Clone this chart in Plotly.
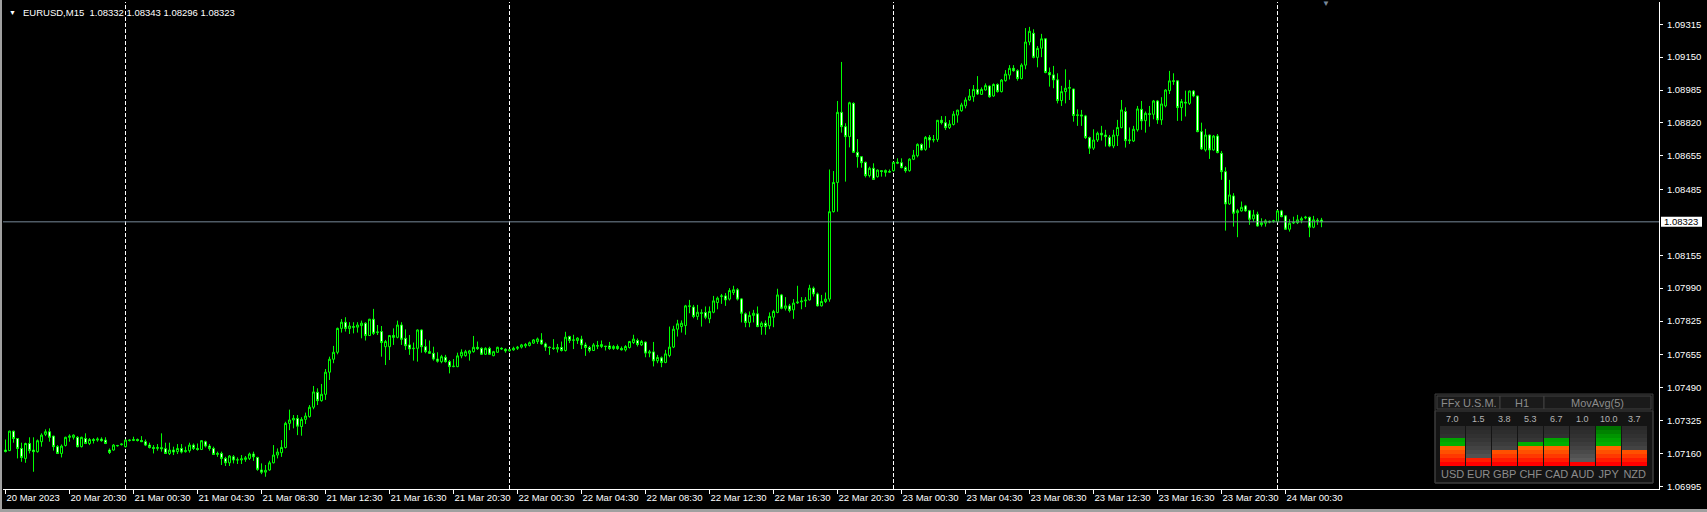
import math
import pandas as pd
import plotly.graph_objects as go

# ---------------- data ----------------
header_symbol = "EURUSD,M15"
start_time = "2023-03-20 16:30"

opens = [
    1.07177, 1.07174, 1.07272, 1.07235, 1.07185, 1.07135, 1.07210, 1.07177, 1.07169, 1.07219,
    1.07256, 1.07269, 1.07247, 1.07194, 1.07160, 1.07200, 1.07241, 1.07241, 1.07241, 1.07194,
    1.07235, 1.07210, 1.07230, 1.07227, 1.07232, 1.07227, 1.07177, 1.07177, 1.07200, 1.07204,
    1.07194, 1.07225, 1.07225, 1.07230, 1.07225, 1.07219, 1.07202, 1.07190, 1.07185, 1.07189,
    1.07184, 1.07160, 1.07177, 1.07169, 1.07185, 1.07169, 1.07174, 1.07202, 1.07185, 1.07180,
    1.07219, 1.07197, 1.07185, 1.07155, 1.07160, 1.07135, 1.07113, 1.07143, 1.07127, 1.07127,
    1.07130, 1.07135, 1.07157, 1.07140, 1.07077, 1.07066, 1.07077, 1.07113, 1.07152, 1.07164,
    1.07190, 1.07311, 1.07328, 1.07336, 1.07295, 1.07331, 1.07345, 1.07392, 1.07467, 1.07425,
    1.07457, 1.07568, 1.07633, 1.07668, 1.07788, 1.07819, 1.07787, 1.07797, 1.07794, 1.07802,
    1.07814, 1.07752, 1.07834, 1.07767, 1.07772, 1.07696, 1.07696, 1.07752, 1.07743, 1.07805,
    1.07738, 1.07705, 1.07686, 1.07688, 1.07780, 1.07696, 1.07671, 1.07663, 1.07634, 1.07621,
    1.07643, 1.07621, 1.07596, 1.07596, 1.07650, 1.07651, 1.07663, 1.07671, 1.07693, 1.07688,
    1.07658, 1.07688, 1.07651, 1.07668, 1.07688, 1.07683, 1.07676, 1.07680, 1.07688, 1.07694,
    1.07700, 1.07702, 1.07714, 1.07722, 1.07730, 1.07710, 1.07694, 1.07690, 1.07684, 1.07692,
    1.07677, 1.07747, 1.07730, 1.07727, 1.07734, 1.07705, 1.07692, 1.07677, 1.07702, 1.07697,
    1.07699, 1.07700, 1.07687, 1.07697, 1.07687, 1.07680, 1.07692, 1.07717, 1.07727, 1.07705,
    1.07719, 1.07664, 1.07670, 1.07625, 1.07640, 1.07617, 1.07652, 1.07694, 1.07784, 1.07797,
    1.07802, 1.07901, 1.07895, 1.07848, 1.07866, 1.07868, 1.07836, 1.07869, 1.07918, 1.07948,
    1.07951, 1.07935, 1.07968, 1.07982, 1.07936, 1.07861, 1.07818, 1.07853, 1.07861, 1.07797,
    1.07814, 1.07801, 1.07844, 1.07868, 1.07956, 1.07889, 1.07901, 1.07881, 1.07916, 1.07921,
    1.07926, 1.07931, 1.07990, 1.07961, 1.07901, 1.07923, 1.07935, 1.08374, 1.08521, 1.08873,
    1.08801, 1.08751, 1.08918, 1.08672, 1.08650, 1.08622, 1.08555, 1.08592, 1.08550, 1.08580,
    1.08571, 1.08576, 1.08580, 1.08622, 1.08620, 1.08595, 1.08580, 1.08637, 1.08655, 1.08712,
    1.08687, 1.08747, 1.08734, 1.08737, 1.08833, 1.08821, 1.08797, 1.08812, 1.08859, 1.08881,
    1.08906, 1.08935, 1.08951, 1.08988, 1.08963, 1.08985, 1.09005, 1.08955, 1.09013, 1.08977,
    1.09032, 1.09060, 1.09094, 1.09082, 1.09043, 1.09110, 1.09226, 1.09270, 1.09149, 1.09195,
    1.09242, 1.09073, 1.09061, 1.09036, 1.08932, 1.08977, 1.08994, 1.08990, 1.08857, 1.08860,
    1.08855, 1.08746, 1.08693, 1.08734, 1.08768, 1.08759, 1.08748, 1.08704, 1.08756, 1.08796,
    1.08877, 1.08731, 1.08729, 1.08785, 1.08888, 1.08831, 1.08866, 1.08863, 1.08930, 1.08835,
    1.08905, 1.08982, 1.09031, 1.09031, 1.08897, 1.08924, 1.08918, 1.08980, 1.08955, 1.08776,
    1.08684, 1.08759, 1.08684, 1.08754, 1.08667, 1.08575, 1.08413, 1.08453, 1.08369, 1.08378,
    1.08403, 1.08379, 1.08338, 1.08361, 1.08309, 1.08316, 1.08326, 1.08324, 1.08324, 1.08378,
    1.08353, 1.08286, 1.08317, 1.08319, 1.08331, 1.08343, 1.08346, 1.08296, 1.08331, 1.08332,
]
highs = [
    1.07230, 1.07274, 1.07274, 1.07237, 1.07214, 1.07214, 1.07241, 1.07241, 1.07230, 1.07261,
    1.07281, 1.07286, 1.07249, 1.07202, 1.07205, 1.07244, 1.07256, 1.07256, 1.07247, 1.07244,
    1.07261, 1.07237, 1.07237, 1.07241, 1.07241, 1.07241, 1.07185, 1.07207, 1.07203, 1.07210,
    1.07230, 1.07230, 1.07244, 1.07235, 1.07247, 1.07230, 1.07214, 1.07202, 1.07207, 1.07261,
    1.07214, 1.07214, 1.07194, 1.07207, 1.07207, 1.07194, 1.07214, 1.07210, 1.07210, 1.07227,
    1.07224, 1.07207, 1.07194, 1.07169, 1.07169, 1.07143, 1.07152, 1.07152, 1.07140, 1.07152,
    1.07147, 1.07164, 1.07169, 1.07143, 1.07110, 1.07102, 1.07123, 1.07202, 1.07185, 1.07227,
    1.07319, 1.07380, 1.07353, 1.07353, 1.07342, 1.07365, 1.07403, 1.07499, 1.07487, 1.07509,
    1.07584, 1.07646, 1.07700, 1.07792, 1.07835, 1.07844, 1.07819, 1.07819, 1.07819, 1.07827,
    1.07819, 1.07836, 1.07886, 1.07805, 1.07800, 1.07730, 1.07755, 1.07788, 1.07827, 1.07819,
    1.07783, 1.07755, 1.07717, 1.07783, 1.07783, 1.07733, 1.07727, 1.07696, 1.07668, 1.07655,
    1.07655, 1.07629, 1.07634, 1.07666, 1.07683, 1.07680, 1.07680, 1.07750, 1.07722, 1.07693,
    1.07693, 1.07696, 1.07675, 1.07696, 1.07693, 1.07688, 1.07685, 1.07696, 1.07700, 1.07710,
    1.07714, 1.07722, 1.07734, 1.07742, 1.07764, 1.07717, 1.07697, 1.07734, 1.07710, 1.07722,
    1.07771, 1.07751, 1.07756, 1.07744, 1.07751, 1.07717, 1.07700, 1.07714, 1.07725, 1.07727,
    1.07700, 1.07720, 1.07704, 1.07707, 1.07697, 1.07704, 1.07725, 1.07756, 1.07737, 1.07730,
    1.07722, 1.07680, 1.07720, 1.07655, 1.07647, 1.07680, 1.07797, 1.07801, 1.07831, 1.07828,
    1.07906, 1.07931, 1.07906, 1.07906, 1.07884, 1.07898, 1.07898, 1.07951, 1.07948, 1.07961,
    1.07965, 1.07990, 1.08002, 1.07990, 1.07940, 1.07868, 1.07873, 1.07881, 1.07898, 1.07823,
    1.07828, 1.07868, 1.07881, 1.07987, 1.07961, 1.07945, 1.07911, 1.07935, 1.08002, 1.07945,
    1.07945, 1.08007, 1.07998, 1.07968, 1.07956, 1.07968, 1.08586, 1.08578, 1.08930, 1.09126,
    1.08818, 1.08926, 1.08923, 1.08739, 1.08653, 1.08625, 1.08600, 1.08617, 1.08586, 1.08583,
    1.08586, 1.08586, 1.08625, 1.08642, 1.08642, 1.08603, 1.08642, 1.08684, 1.08717, 1.08717,
    1.08754, 1.08759, 1.08759, 1.08834, 1.08854, 1.08854, 1.08834, 1.08879, 1.08886, 1.08921,
    1.08948, 1.08990, 1.09010, 1.09055, 1.08998, 1.09018, 1.09008, 1.09018, 1.09018, 1.09040,
    1.09085, 1.09110, 1.09110, 1.09089, 1.09119, 1.09296, 1.09302, 1.09290, 1.09206, 1.09267,
    1.09245, 1.09098, 1.09106, 1.09069, 1.09006, 1.09089, 1.09036, 1.08992, 1.08888, 1.08885,
    1.08860, 1.08751, 1.08788, 1.08776, 1.08805, 1.08785, 1.08759, 1.08785, 1.08835, 1.08935,
    1.08898, 1.08797, 1.08805, 1.08905, 1.08930, 1.08877, 1.08905, 1.08935, 1.08935, 1.08949,
    1.08989, 1.09081, 1.09069, 1.09033, 1.08940, 1.08982, 1.08982, 1.08985, 1.08957, 1.08821,
    1.08790, 1.08761, 1.08759, 1.08764, 1.08679, 1.08597, 1.08534, 1.08467, 1.08388, 1.08425,
    1.08408, 1.08383, 1.08383, 1.08374, 1.08341, 1.08336, 1.08329, 1.08333, 1.08383, 1.08383,
    1.08355, 1.08336, 1.08349, 1.08358, 1.08349, 1.08353, 1.08349, 1.08353, 1.08341, 1.08343,
]
lows = [
    1.07165, 1.07172, 1.07214, 1.07135, 1.07118, 1.07113, 1.07160, 1.07068, 1.07164, 1.07194,
    1.07247, 1.07219, 1.07174, 1.07157, 1.07140, 1.07195, 1.07219, 1.07230, 1.07190, 1.07190,
    1.07207, 1.07202, 1.07210, 1.07219, 1.07219, 1.07207, 1.07157, 1.07174, 1.07194, 1.07200,
    1.07190, 1.07220, 1.07222, 1.07220, 1.07217, 1.07197, 1.07185, 1.07160, 1.07174, 1.07169,
    1.07157, 1.07152, 1.07152, 1.07157, 1.07160, 1.07164, 1.07164, 1.07177, 1.07174, 1.07177,
    1.07190, 1.07174, 1.07152, 1.07143, 1.07102, 1.07097, 1.07097, 1.07110, 1.07107, 1.07107,
    1.07118, 1.07127, 1.07123, 1.07073, 1.07056, 1.07043, 1.07073, 1.07110, 1.07135, 1.07143,
    1.07185, 1.07277, 1.07286, 1.07252, 1.07249, 1.07308, 1.07340, 1.07382, 1.07403, 1.07420,
    1.07429, 1.07529, 1.07613, 1.07658, 1.07767, 1.07772, 1.07760, 1.07763, 1.07767, 1.07738,
    1.07727, 1.07750, 1.07755, 1.07755, 1.07646, 1.07604, 1.07629, 1.07705, 1.07738, 1.07705,
    1.07680, 1.07655, 1.07626, 1.07621, 1.07666, 1.07663, 1.07660, 1.07626, 1.07616, 1.07613,
    1.07616, 1.07562, 1.07593, 1.07593, 1.07638, 1.07646, 1.07626, 1.07666, 1.07680, 1.07655,
    1.07655, 1.07655, 1.07648, 1.07666, 1.07680, 1.07666, 1.07671, 1.07676, 1.07680, 1.07687,
    1.07690, 1.07697, 1.07710, 1.07710, 1.07705, 1.07675, 1.07655, 1.07680, 1.07667, 1.07672,
    1.07672, 1.07714, 1.07684, 1.07710, 1.07684, 1.07650, 1.07667, 1.07675, 1.07684, 1.07689,
    1.07677, 1.07680, 1.07680, 1.07680, 1.07677, 1.07672, 1.07687, 1.07710, 1.07697, 1.07700,
    1.07643, 1.07643, 1.07597, 1.07613, 1.07593, 1.07613, 1.07643, 1.07689, 1.07747, 1.07767,
    1.07756, 1.07864, 1.07839, 1.07831, 1.07797, 1.07834, 1.07814, 1.07864, 1.07884, 1.07911,
    1.07901, 1.07928, 1.07956, 1.07928, 1.07818, 1.07794, 1.07794, 1.07818, 1.07794, 1.07756,
    1.07756, 1.07784, 1.07794, 1.07864, 1.07884, 1.07878, 1.07868, 1.07836, 1.07911, 1.07884,
    1.07895, 1.07928, 1.07948, 1.07898, 1.07898, 1.07915, 1.07922, 1.08370, 1.08374, 1.08771,
    1.08525, 1.08697, 1.08670, 1.08595, 1.08595, 1.08546, 1.08546, 1.08533, 1.08545, 1.08550,
    1.08550, 1.08570, 1.08575, 1.08613, 1.08592, 1.08570, 1.08575, 1.08633, 1.08647, 1.08682,
    1.08680, 1.08695, 1.08722, 1.08725, 1.08812, 1.08784, 1.08789, 1.08807, 1.08821, 1.08876,
    1.08893, 1.08931, 1.08926, 1.08960, 1.08960, 1.08982, 1.08946, 1.08951, 1.08972, 1.08973,
    1.09027, 1.09038, 1.09077, 1.09032, 1.09038, 1.09089, 1.09210, 1.09144, 1.09099, 1.09150,
    1.09069, 1.09002, 1.08994, 1.08918, 1.08905, 1.08918, 1.08935, 1.08826, 1.08805, 1.08805,
    1.08739, 1.08664, 1.08684, 1.08724, 1.08731, 1.08701, 1.08698, 1.08693, 1.08704, 1.08793,
    1.08696, 1.08714, 1.08724, 1.08776, 1.08785, 1.08771, 1.08801, 1.08838, 1.08815, 1.08810,
    1.08898, 1.08965, 1.09011, 1.08830, 1.08830, 1.08852, 1.08910, 1.08949, 1.08773, 1.08684,
    1.08676, 1.08639, 1.08681, 1.08667, 1.08534, 1.08279, 1.08408, 1.08299, 1.08246, 1.08374,
    1.08374, 1.08308, 1.08324, 1.08299, 1.08299, 1.08299, 1.08316, 1.08319, 1.08321, 1.08346,
    1.08282, 1.08274, 1.08312, 1.08312, 1.08316, 1.08336, 1.08246, 1.08291, 1.08308, 1.08296,
]
closes = [
    1.07170, 1.07272, 1.07235, 1.07185, 1.07140, 1.07210, 1.07174, 1.07169, 1.07224, 1.07252,
    1.07269, 1.07241, 1.07194, 1.07160, 1.07197, 1.07241, 1.07247, 1.07252, 1.07194, 1.07241,
    1.07210, 1.07230, 1.07225, 1.07232, 1.07224, 1.07210, 1.07165, 1.07202, 1.07199, 1.07207,
    1.07227, 1.07227, 1.07230, 1.07225, 1.07219, 1.07202, 1.07190, 1.07185, 1.07190, 1.07184,
    1.07160, 1.07177, 1.07167, 1.07185, 1.07167, 1.07174, 1.07202, 1.07185, 1.07180, 1.07224,
    1.07197, 1.07185, 1.07155, 1.07160, 1.07135, 1.07113, 1.07147, 1.07127, 1.07128, 1.07133,
    1.07138, 1.07157, 1.07143, 1.07080, 1.07066, 1.07075, 1.07113, 1.07152, 1.07167, 1.07190,
    1.07311, 1.07328, 1.07336, 1.07297, 1.07331, 1.07348, 1.07392, 1.07469, 1.07425, 1.07457,
    1.07568, 1.07633, 1.07668, 1.07788, 1.07819, 1.07788, 1.07800, 1.07794, 1.07805, 1.07814,
    1.07752, 1.07834, 1.07763, 1.07770, 1.07717, 1.07722, 1.07752, 1.07743, 1.07805, 1.07733,
    1.07701, 1.07685, 1.07688, 1.07780, 1.07696, 1.07671, 1.07663, 1.07634, 1.07623, 1.07646,
    1.07621, 1.07596, 1.07598, 1.07650, 1.07668, 1.07671, 1.07675, 1.07693, 1.07686, 1.07658,
    1.07688, 1.07658, 1.07671, 1.07693, 1.07685, 1.07675, 1.07681, 1.07688, 1.07693, 1.07705,
    1.07707, 1.07716, 1.07730, 1.07735, 1.07710, 1.07694, 1.07692, 1.07687, 1.07692, 1.07677,
    1.07744, 1.07727, 1.07729, 1.07739, 1.07705, 1.07692, 1.07677, 1.07705, 1.07699, 1.07707,
    1.07697, 1.07687, 1.07697, 1.07687, 1.07680, 1.07697, 1.07722, 1.07734, 1.07707, 1.07722,
    1.07664, 1.07670, 1.07625, 1.07642, 1.07617, 1.07660, 1.07694, 1.07784, 1.07811, 1.07814,
    1.07901, 1.07899, 1.07848, 1.07869, 1.07864, 1.07844, 1.07873, 1.07926, 1.07940, 1.07951,
    1.07931, 1.07978, 1.07982, 1.07935, 1.07864, 1.07818, 1.07853, 1.07864, 1.07797, 1.07814,
    1.07797, 1.07848, 1.07873, 1.07956, 1.07889, 1.07901, 1.07878, 1.07915, 1.07920, 1.07925,
    1.07930, 1.07990, 1.07961, 1.07901, 1.07923, 1.07935, 1.08374, 1.08521, 1.08873, 1.08801,
    1.08751, 1.08921, 1.08672, 1.08650, 1.08620, 1.08555, 1.08592, 1.08536, 1.08583, 1.08576,
    1.08581, 1.08573, 1.08622, 1.08618, 1.08595, 1.08580, 1.08638, 1.08658, 1.08712, 1.08684,
    1.08747, 1.08734, 1.08736, 1.08833, 1.08821, 1.08796, 1.08814, 1.08864, 1.08884, 1.08910,
    1.08935, 1.08955, 1.08988, 1.08965, 1.08988, 1.09007, 1.08951, 1.09013, 1.08977, 1.09035,
    1.09065, 1.09094, 1.09082, 1.09043, 1.09110, 1.09226, 1.09280, 1.09149, 1.09194, 1.09242,
    1.09073, 1.09061, 1.09036, 1.08932, 1.08977, 1.08994, 1.08997, 1.08857, 1.08860, 1.08855,
    1.08746, 1.08693, 1.08734, 1.08768, 1.08759, 1.08751, 1.08704, 1.08759, 1.08797, 1.08885,
    1.08731, 1.08734, 1.08788, 1.08890, 1.08830, 1.08868, 1.08863, 1.08930, 1.08835, 1.08915,
    1.08985, 1.09031, 1.09029, 1.08897, 1.08927, 1.08920, 1.08980, 1.08955, 1.08776, 1.08689,
    1.08759, 1.08684, 1.08754, 1.08671, 1.08575, 1.08413, 1.08458, 1.08366, 1.08379, 1.08396,
    1.08378, 1.08336, 1.08358, 1.08302, 1.08319, 1.08328, 1.08322, 1.08328, 1.08378, 1.08349,
    1.08286, 1.08316, 1.08321, 1.08333, 1.08339, 1.08346, 1.08296, 1.08333, 1.08328, 1.08323,
]

tick_bars = [0, 16, 32, 48, 64, 80, 96, 112, 128, 144, 160, 176, 192, 208, 224, 240, 256, 272, 288, 304, 320]
tick_labels = [
    "20 Mar 2023", "20 Mar 20:30", "21 Mar 00:30", "21 Mar 04:30", "21 Mar 08:30", "21 Mar 12:30",
    "21 Mar 16:30", "21 Mar 20:30", "22 Mar 00:30", "22 Mar 04:30", "22 Mar 08:30", "22 Mar 12:30",
    "22 Mar 16:30", "22 Mar 20:30", "23 Mar 00:30", "23 Mar 04:30", "23 Mar 08:30", "23 Mar 12:30",
    "23 Mar 16:30", "23 Mar 20:30", "24 Mar 00:30",
]
price_ticks = [1.09315, 1.09150, 1.08985, 1.08820, 1.08655, 1.08485, 1.08155,
               1.07990, 1.07825, 1.07655, 1.07490, 1.07325, 1.07160, 1.06995]
separators = ["2023-03-21 00:00", "2023-03-22 00:00", "2023-03-23 00:00", "2023-03-24 00:00"]

currencies = ["USD", "EUR", "GBP", "CHF", "CAD", "AUD", "JPY", "NZD"]
strength = [7.0, 1.5, 3.8, 5.3, 6.7, 1.0, 10.0, 3.7]
panel_titles = ["FFx U.S.M.", "H1", "MovAvg(5)"]

# ---------------- geometry / style ----------------
W, H = 1707, 512
ML, MR, MT, MB = 3, 48, 2, 23
PW, PH = W - ML - MR, H - MT - MB          # plot area in px
BAR_PX = 4                                  # px per M15 bar
FIRST_OFF = 0.625                           # bars between left edge and first bar
PX_PRICE = 0.0232 / 462                     # price per pixel
Y_TOP = 1.09315 + (24.3 - MT) * PX_PRICE
Y_BOT = 1.09315 - (MT + PH - 24.3) * PX_PRICE

GREEN = "#00FF00"
FONT = "Liberation Sans, Arial, sans-serif"

def px_x(px):   # page px -> paper x
    return (px - ML) / PW

def px_y(py):   # page px -> paper y
    return (MT + PH - py) / PH

times = pd.date_range(start_time, periods=len(closes), freq="15min")
step = pd.Timedelta(minutes=15)
x_range = [times[0] - step * FIRST_OFF, times[0] + step * (PW / BAR_PX - FIRST_OFF)]
last_price = closes[-1]

fig = go.Figure()
fig.add_trace(go.Candlestick(
    x=times, open=opens, high=highs, low=lows, close=closes,
    increasing=dict(line=dict(color=GREEN, width=1), fillcolor="#000000"),
    decreasing=dict(line=dict(color=GREEN, width=1), fillcolor="#FFFFFF"),
    whiskerwidth=0, hoverinfo="skip", showlegend=False,
))

# ---- currency strength panel (stacked stripe bars) ----
hot = ["#ff0000", "#ff1c00", "#ff3800", "#ff5000", "#ff6400",
       "#00b000", "#00a400", "#009400", "#008200", "#007000"]
cold = ["#626262", "#5a5a5a", "#525252", "#4a4a4a", "#434343",
        "#3c3c3c", "#363636", "#313131", "#2d2d2d", "#2a2a2a"]
for k in range(10):
    cols = [hot[k] if k < math.ceil(v) else cold[k] for v in strength]
    fig.add_trace(go.Bar(
        x=currencies, y=[1] * len(currencies), marker=dict(color=cols, line=dict(width=0)),
        xaxis="x2", yaxis="y2", hoverinfo="skip", showlegend=False,
    ))

shapes = []
# day separators
for s in separators:
    shapes.append(dict(type="line", xref="x", yref="paper", x0=s, x1=s, y0=0, y1=1,
                       line=dict(color="#FFFFFF", width=1, dash="4px,2px"), layer="below"))
# current price line
shapes.append(dict(type="line", xref="paper", yref="y", x0=0, x1=1, y0=last_price, y1=last_price,
                   line=dict(color="#778899", width=1), layer="above"))
# price label box
shapes.append(dict(type="rect", xref="paper", yref="y", x0=px_x(1661), x1=px_x(1702),
                   y0=last_price - 5 * PX_PRICE, y1=last_price + 5 * PX_PRICE,
                   fillcolor="#FFFFFF", line=dict(width=0), layer="above"))
# window frame
shapes.append(dict(type="rect", xref="paper", yref="paper", x0=px_x(0), x1=px_x(2),
                   y0=px_y(H), y1=px_y(0), fillcolor="#A0A0A0", line=dict(width=0)))
shapes.append(dict(type="rect", xref="paper", yref="paper", x0=px_x(0), x1=px_x(W),
                   y0=px_y(H), y1=px_y(H - 3), fillcolor="#A0A0A0", line=dict(width=0)))
# panel
shapes.append(dict(type="rect", xref="paper", yref="paper", x0=px_x(1435), x1=px_x(1653),
                   y0=px_y(483), y1=px_y(394), fillcolor="#141414",
                   line=dict(color="#3c3c3c", width=1), layer="below"))
shapes.append(dict(type="rect", xref="paper", yref="paper", x0=px_x(1435), x1=px_x(1653),
                   y0=px_y(483), y1=px_y(411), fillcolor="rgba(0,0,0,0)",
                   line=dict(color="#3c3c3c", width=1), layer="below"))
cells = [(1437, 1500), (1500, 1544), (1544, 1651)]
for (a, b) in cells:
    shapes.append(dict(type="rect", xref="paper", yref="paper", x0=px_x(a), x1=px_x(b),
                       y0=px_y(409), y1=px_y(396), fillcolor="#1a1a1a",
                       line=dict(color="#404040", width=1), layer="below"))

annotations = []
annotations.append(dict(text="\u25BC", xref="paper", yref="paper", x=px_x(12.5), y=px_y(12.5),
                        xanchor="center", yanchor="middle", showarrow=False,
                        font=dict(family=FONT, size=7, color="#FFFFFF")))
hdr = header_symbol + "\u00a0\u00a0" + "\u00a0".join(
    f"{v:.5f}" for v in [opens[-1], highs[-1], lows[-1], closes[-1]])
annotations.append(dict(text=hdr, xref="paper", yref="paper", x=px_x(20.5), y=px_y(12.7),
                        xanchor="left", yanchor="middle", showarrow=False,
                        font=dict(family=FONT, size=9.5, color="#FFFFFF")))
annotations.append(dict(text="\u25BC", xref="paper", yref="paper", x=px_x(1326), y=px_y(4),
                        xanchor="center", yanchor="middle", showarrow=False,
                        font=dict(family=FONT, size=8, color="#778899")))
annotations.append(dict(text=f"{last_price:.5f}", xref="paper", yref="y", x=px_x(1681.5),
                        y=last_price, xanchor="center", yanchor="middle", showarrow=False,
                        font=dict(family=FONT, size=9.5, color="#000000")))
for (a, b), t in zip(cells, panel_titles):
    annotations.append(dict(text=t, xref="paper", yref="paper", x=px_x((a + b) / 2), y=px_y(402.7),
                            xanchor="center", yanchor="middle", showarrow=False,
                            font=dict(family=FONT, size=11, color="#8c8c8c")))
for c, v in zip(currencies, strength):
    annotations.append(dict(text=f"{v:.1f}", xref="x2", yref="paper", x=c, y=px_y(419),
                            xanchor="center", yanchor="middle", showarrow=False,
                            font=dict(family=FONT, size=9, color="#b4b4b4")))

fig.update_layout(
    width=W, height=H,
    margin=dict(l=ML, r=MR, t=MT, b=MB, autoexpand=False),
    paper_bgcolor="#000000", plot_bgcolor="rgba(0,0,0,0)",
    showlegend=False, hovermode=False,
    boxgap=0.5, boxgroupgap=0,
    barmode="stack", bargap=0.04,
    shapes=shapes, annotations=annotations,
    xaxis=dict(
        type="date", range=x_range, rangeslider=dict(visible=False),
        showgrid=False, zeroline=False, showline=True, linecolor="#FFFFFF", linewidth=1,
        ticks="outside", ticklen=4, tickwidth=1, tickcolor="#FFFFFF",
        tickvals=[times[i] for i in tick_bars], ticktext=tick_labels,
        ticklabelposition="outside right", tickangle=0,
        tickfont=dict(family=FONT, size=9.5, color="#FFFFFF"),
        fixedrange=True,
    ),
    yaxis=dict(
        range=[Y_BOT, Y_TOP], side="right",
        showgrid=False, zeroline=False, showline=True, linecolor="#FFFFFF", linewidth=1,
        ticks="outside", ticklen=3, tickwidth=1, tickcolor="#FFFFFF",
        tickvals=price_ticks, ticktext=[f"{p:.5f}" for p in price_ticks],
        tickfont=dict(family=FONT, size=9.5, color="#FFFFFF"),
        ticklabelstandoff=2,
        fixedrange=True,
    ),
    xaxis2=dict(
        domain=[px_x(1439.7), px_x(1647.7)], anchor="y2", type="category",
        showgrid=False, zeroline=False, showline=False, ticks="", tickangle=0,
        tickfont=dict(family=FONT, size=11, color="#8c8c8c"), fixedrange=True,
    ),
    yaxis2=dict(
        domain=[px_y(466), px_y(426)], anchor="x2", range=[0, 10], visible=False, fixedrange=True,
    ),
)

fig.write_html("out.html", config=dict(displayModeBar=False, staticPlot=True),
               post_script="document.body.style.margin='0px';document.body.style.overflow='hidden';")
